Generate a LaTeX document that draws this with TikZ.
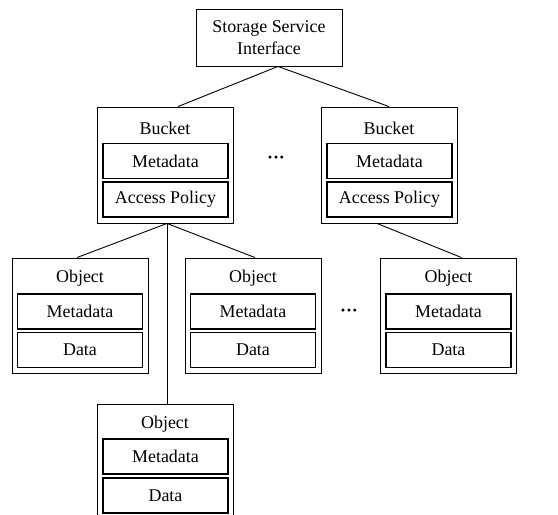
\documentclass[tikz,border=0pt]{standalone}
\usepackage{fontspec}
\setmainfont{Liberation Serif}
\usetikzlibrary{positioning}

\tikzset{
    outer/.style={draw, line width=0.9bp, minimum width=136bp, minimum height=115bp, inner sep=0pt},
    inner/.style={draw, line width=1.3bp, minimum width=125bp, minimum height=35bp, inner sep=0pt},
    title/.style={inner sep=0pt},
    dots/.style={inner sep=0pt, font=\fontsize{18}{22}\selectfont\bfseries},
    link/.style={line width=0.9bp}
}

\begin{document}
\begin{tikzpicture}[x=1bp, y=-1bp, font=\fontsize{18}{22}\selectfont]
    \useasboundingbox (0,0) rectangle (558,515);

    % top
    \node[draw, line width=0.9bp, minimum width=146bp, minimum height=57bp, align=center](iface) at (269,37.5){Storage Service\\Interface};

    % buckets
    \node[outer, minimum height=116bp](bktA) at (165,165){};
    \node[title](bktAt) at (165,128){Bucket};
    \node[inner](bktAmeta) at (165.5,161){Metadata};
    \node[inner](bktAacc) at (165.5,199.5){Access Policy};

    \node[outer, minimum height=116bp](bktB) at (389,165){};
    \node[title](bktBt) at (389,128){Bucket};
    \node[inner](bktBmeta) at (389.5,161){Metadata};
    \node[inner](bktBacc) at (389.5,199.5){Access Policy};

    \node[dots](dotsA) at (276,160){···};

    % objects
    \node[outer](objA) at (80,315.5){};
    \node[title](objAt) at (80,278){Object};
    \node[inner](objAmeta) at (80,311.5){Metadata};
    \node[inner](objAdata) at (80,350){Data};

    \node[outer](objB) at (253,315.5){};
    \node[title](objBt) at (253,278){Object};
    \node[inner](objBmeta) at (253,311.5){Metadata};
    \node[inner](objBdata) at (253,350){Data};

    \node[outer](objC) at (448.5,315.5){};
    \node[title](objCt) at (448.5,278){Object};
    \node[inner](objCmeta) at (448.5,311.5){Metadata};
    \node[inner](objCdata) at (448.5,350){Data};

    \node[dots](dotsB) at (349,313){···};

    \node[outer](objD) at (165,461.5){};
    \node[title](objDt) at (165,424){Object};
    \node[inner](objDmeta) at (165.5,456.5){Metadata};
    \node[inner](objDdata) at (165.5,495.5){Data};

    % links
    \draw[link]([xshift=9bp]iface.south)--([xshift=13bp]bktA.north);
    \draw[link]([xshift=9bp]iface.south)--(bktB.north);
    \draw[link]([xshift=2bp]bktA.south)--([xshift=-3bp]objA.north);
    \draw[link]([xshift=2bp]bktA.south)--([xshift=2bp]objB.north);
    \draw[link]([xshift=2bp]bktA.south)--([xshift=2bp]objD.north);
    \draw[link]([xshift=-12bp]bktB.south)--([xshift=13bp]objC.north);
\end{tikzpicture}
\end{document}
